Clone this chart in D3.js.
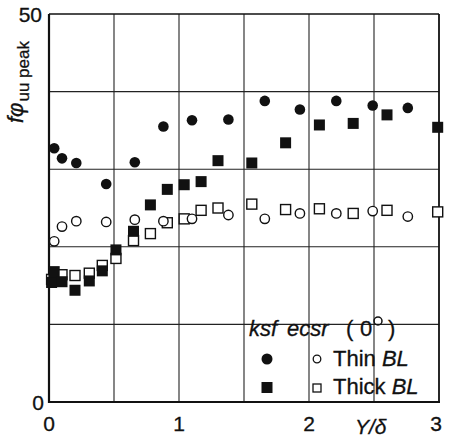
<!DOCTYPE html>
<html>
<head>
	<style>
		html, body { margin: 0; padding: 0; background: white; }
		svg { display: block; font-family: "Liberation Sans", Arial, sans-serif; }
		text { fill: #111; stroke: #111; stroke-width: 0.3; }
	</style>
</head>
<body>
<svg class="chart" width="450" height="447"></svg>
<script src="https://d3js.org/d3.v7.min.js"></script>
<script>

// Y/delta positions of the thin boundary layer stations
var thinX = [0.04, 0.10, 0.21, 0.44, 0.66, 0.88, 1.10, 1.38, 1.66, 1.93, 2.21, 2.49, 2.76]
var ksfThin = [32.7, 31.4, 30.8, 28.1, 30.9, 35.5, 36.3, 36.4, 38.8, 37.7, 38.8, 38.2, 37.9]
var ecsrThin = [20.7, 22.6, 23.3, 23.2, 23.5, 23.3, 23.6, 24.1, 23.6, 24.3, 24.3, 24.6, 23.9]

// thick boundary layer stations
var thickX = [0.02, 0.04, 0.10, 0.20, 0.31, 0.41, 0.515, 0.65, 0.78, 0.91, 1.04, 1.17, 1.30, 1.56, 1.82, 2.08, 2.34, 2.60, 2.99]
var ksfThick = [15.4, 16.8, 15.5, 14.4, 15.6, 16.9, 19.6, 22.0, 25.4, 27.4, 28.0, 28.4, 31.1, 30.8, 33.4, 35.7, 35.9, 37.0, 35.4]
var ecsrThick = [15.8, 16.0, 16.4, 16.3, 16.6, 17.6, 18.5, 20.8, 21.7, 23.1, 23.6, 24.7, 25.0, 25.5, 24.8, 24.9, 24.3, 24.7, 24.5]

var xTicks = [0, 1, 2, 3]
var yTickLabels = [0, 50]
var xGrid = [0.5, 1, 1.5, 2, 2.5]
var yGrid = [10, 20, 30, 40]

var cfg = { left: 49, right: 439, top: 14, bottom: 402 }

var svg = d3.select('.chart')

var x = d3.scaleLinear().domain([0, 3]).range([cfg.left, cfg.right])
var y = d3.scaleLinear().domain([0, 50]).range([cfg.bottom, cfg.top])

// grid
svg.selectAll('.vgrid').data(xGrid).enter().append('line')
	.attr('x1', x).attr('x2', x)
	.attr('y1', cfg.top).attr('y2', cfg.bottom)
	.attr('stroke', '#222').attr('stroke-width', 1.1)
svg.selectAll('.hgrid').data(yGrid).enter().append('line')
	.attr('x1', cfg.left).attr('x2', cfg.right)
	.attr('y1', y).attr('y2', y)
	.attr('stroke', '#222').attr('stroke-width', 1.1)

// frame: left/bottom heavier
svg.append('line').attr('x1', cfg.left).attr('x2', cfg.right).attr('y1', cfg.top).attr('y2', cfg.top)
	.attr('stroke', '#111').attr('stroke-width', 1.5)
svg.append('line').attr('x1', cfg.right).attr('x2', cfg.right).attr('y1', cfg.top).attr('y2', cfg.bottom)
	.attr('stroke', '#111').attr('stroke-width', 1.8)
svg.append('line').attr('x1', cfg.left).attr('x2', cfg.left).attr('y1', cfg.top).attr('y2', cfg.bottom + 1)
	.attr('stroke', '#111').attr('stroke-width', 2.2)
svg.append('line').attr('x1', cfg.left - 1).attr('x2', cfg.right + 1).attr('y1', cfg.bottom).attr('y2', cfg.bottom)
	.attr('stroke', '#111').attr('stroke-width', 2.2)

// tick labels
svg.selectAll('.xt').data(xTicks).enter().append('text')
	.attr('x', function(d) { return d == 3 ? x(d) - 3 : x(d) })
	.attr('y', 431)
	.attr('text-anchor', 'middle')
	.attr('font-size', 21)
	.text(function(d) { return d })
svg.selectAll('.yt').data(yTickLabels).enter().append('text')
	.attr('x', function(d) { return d == 0 ? 44 : 42 })
	.attr('y', function(d) { return d == 0 ? y(d) + 8 : y(d) + 8 })
	.attr('text-anchor', 'end')
	.attr('font-size', 21)
	.text(function(d) { return d })

// axis titles
svg.append('text').attr('x', 355).attr('y', 434)
	.attr('font-size', 21).attr('font-style', 'italic')
	.text('Y/δ')

var yt = svg.append('text')
	.attr('transform', 'translate(23,123) rotate(-90)')
	.attr('font-size', 22)
yt.append('tspan').attr('font-style', 'italic').text('fφ')
yt.append('tspan').attr('font-size', 17).attr('dy', 6).attr('dx', 1).text('uu peak')

// data points
function pairs(xs, ys) { return xs.map(function(v, i) { return [v, ys[i]] }) }

// open symbols first, filled on top
svg.selectAll('.eth').data(pairs(thickX, ecsrThick)).enter().append('rect')
	.attr('x', function(d) { return x(d[0]) - 5 })
	.attr('y', function(d) { return y(d[1]) - 5 })
	.attr('width', 10).attr('height', 10)
	.attr('fill', 'white').attr('stroke', '#111').attr('stroke-width', 1.4)
svg.selectAll('.ks').data(pairs(thickX, ksfThick)).enter().append('rect')
	.attr('x', function(d) { return x(d[0]) - 5.5 })
	.attr('y', function(d) { return y(d[1]) - 5.5 })
	.attr('width', 11).attr('height', 11)
	.attr('fill', '#111')
svg.selectAll('.etn').data(pairs(thinX, ecsrThin)).enter().append('circle')
	.attr('cx', function(d) { return x(d[0]) })
	.attr('cy', function(d) { return y(d[1]) })
	.attr('r', 4.7)
	.attr('fill', 'white').attr('stroke', '#111').attr('stroke-width', 1.4)
svg.selectAll('.kc').data(pairs(thinX, ksfThin)).enter().append('circle')
	.attr('cx', function(d) { return x(d[0]) })
	.attr('cy', function(d) { return y(d[1]) })
	.attr('r', 5.3)
	.attr('fill', '#111')

// legend
var lg = svg.append('g').attr('font-size', 22)
lg.append('text').attr('x', 249).attr('y', 336).attr('font-style', 'italic').text('ksf')
lg.append('text').attr('x', 287).attr('y', 336).attr('font-style', 'italic').text('ecsr')
lg.append('text').attr('x', 346).attr('y', 336).text('(')
lg.append('text').attr('x', 360).attr('y', 336).text('0')
lg.append('circle').attr('cx', 378).attr('cy', 321).attr('r', 4)
	.attr('fill', 'none').attr('stroke', '#111').attr('stroke-width', 1.5)
lg.append('text').attr('x', 388).attr('y', 336).text(')')

lg.append('circle').attr('cx', 267).attr('cy', 359).attr('r', 5.5).attr('fill', '#111')
lg.append('circle').attr('cx', 317).attr('cy', 359).attr('r', 3.8)
	.attr('fill', 'white').attr('stroke', '#111').attr('stroke-width', 1.3)
var t1 = lg.append('text').attr('x', 333).attr('y', 366)
t1.append('tspan').text('Thin ')
t1.append('tspan').attr('font-style', 'italic').text('BL')

lg.append('rect').attr('x', 261.5).attr('y', 382).attr('width', 11).attr('height', 11).attr('fill', '#111')
lg.append('rect').attr('x', 313).attr('y', 384).attr('width', 8).attr('height', 8)
	.attr('fill', 'white').attr('stroke', '#111').attr('stroke-width', 1.3)
var t2 = lg.append('text').attr('x', 333).attr('y', 394)
t2.append('tspan').text('Thick ')
t2.append('tspan').attr('font-style', 'italic').text('BL')

</script>
</body>
</html>
